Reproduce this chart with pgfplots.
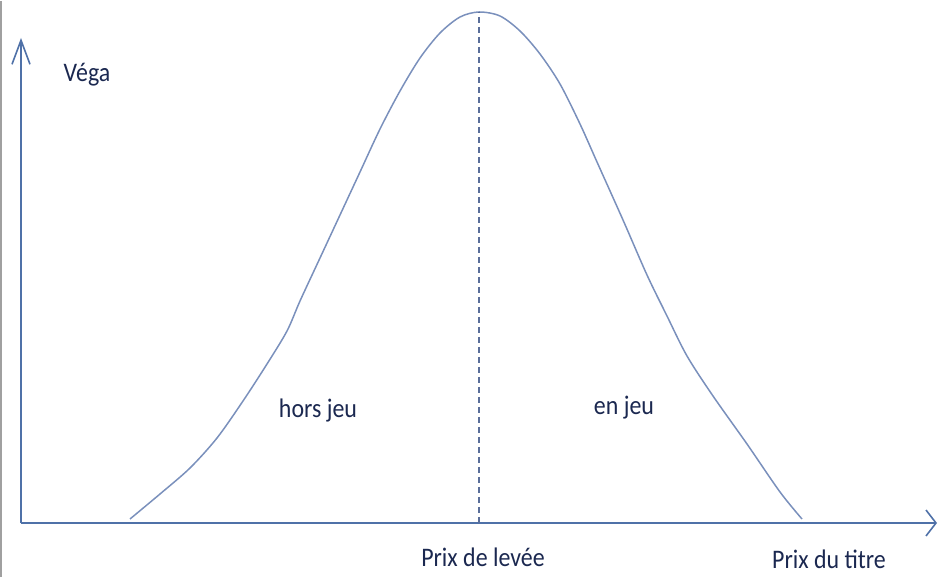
\documentclass[border=0pt]{standalone}
\usepackage{fontspec}
\setmainfont{Carlito}
\usepackage{pgfplots}
\pgfplotsset{compat=1.18}
\usetikzlibrary{arrows.meta}
\definecolor{axisblue}{HTML}{4F71A8}
\definecolor{curveblue}{HTML}{7A90BC}
\definecolor{dashblue}{HTML}{5A6E9A}
\definecolor{txtnavy}{HTML}{1B2850}
\definecolor{frame}{HTML}{A0A0A0}
\tikzset{lbl/.style={font=\fontsize{24}{28}\selectfont, text=txtnavy, anchor=base, yscale=1.12, inner sep=0pt}}

\begin{document}
\begin{tikzpicture}[x=1bp,y=1bp]
\begin{axis}[
  scale only axis,
  width=916bp, height=485bp,
  xmin=21, xmax=937,
  ymin=0, ymax=485,
  axis lines=left,
  ticks=none,
  clip=false,
  axis line style={draw=axisblue, line width=2bp},
  x axis line style={-{Straight Barb[length=10bp,width=26bp,line width=1.6bp]}},
  y axis line style={-{Straight Barb[length=24bp,width=18bp,line width=1.6bp]}},
]
% page frame (image coordinates: y = 522 - pixel row)
\path (axis cs:0,-54) rectangle (axis cs:939,522);
\draw[frame, line width=2bp] (axis cs:1,-54) -- (axis cs:1,522);

% vega curve
\addplot[curveblue, line width=1.5bp, smooth, tension=0.5] coordinates {
  (130,4) (160,29) (190,55) (217,85) (243,122) (267,159) (287,192)
  (300,222) (320,265) (340,308) (360,351) (380,394) (400,432)
  (420,465) (440,490) (460,506) (479,511)
  (500,507) (520,492) (540,469) (560,439) (580,399) (597,361)
  (623,303) (647,248) (667,207) (687,167) (713,127) (747,79)
  (780,31) (802,4)
};

% strike price
\addplot[dashblue, line width=1.3bp, dash pattern=on 6bp off 4bp] coordinates {
  (479,0) (479,511)
};

\node[lbl] at (axis cs:87,441) {Véga};
\node[lbl] at (axis cs:318,105) {hors jeu};
\node[lbl] at (axis cs:624,108) {en jeu};
\node[lbl] at (axis cs:483,-43) {Prix de levée};
\node[lbl] at (axis cs:829,-45) {Prix du titre};
\end{axis}
\end{tikzpicture}
\end{document}
